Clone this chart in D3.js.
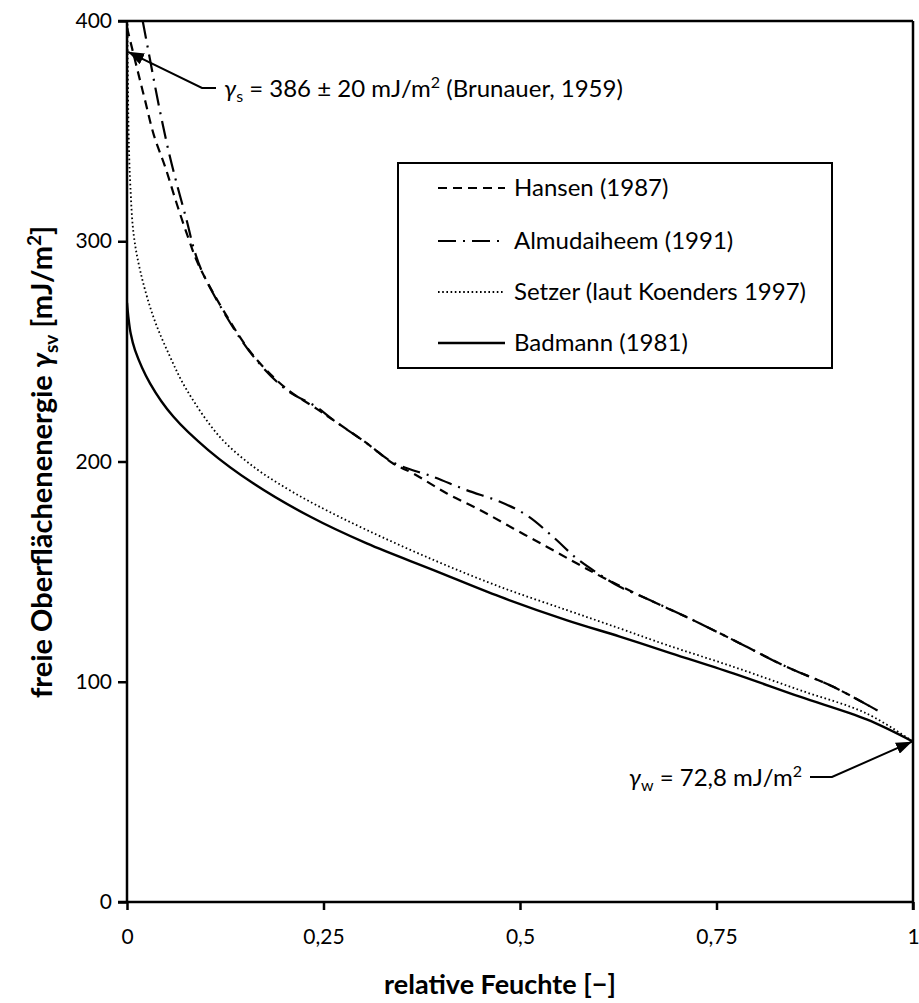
<!DOCTYPE html>
<html>
<head>
<meta charset="utf-8">
<style>
  body { margin: 0; background: #fff; }
  svg text { font-family: Lato, "Open Sans", sans-serif; fill: #000; }
</style>
</head>
<body>
<svg id="chart" width="919" height="1003"></svg>
<script src="https://cdnjs.cloudflare.com/ajax/libs/d3/7.8.5/d3.min.js"></script>
<script>
// relative humidity / surface energy pairs
const hansen = [
  [0, 397], [0.0127, 378.6], [0.0233, 363.5], [0.034, 348.4], [0.049, 333.3],
  [0.0636, 316.7], [0.078, 301.5], [0.091, 289.3], [0.127, 266], [0.161, 248],
  [0.203, 233], [0.241, 224], [0.2625, 218.8], [0.305, 208.3], [0.339, 199],
  [0.364, 194.6], [0.407, 185.5], [0.449, 178], [0.4915, 169.6], [0.534, 161.3],
  [0.572, 153.8], [0.608, 146.9], [0.665, 137.1], [0.72, 128], [0.78, 117.4],
  [0.839, 106.8], [0.8986, 97.7], [0.956, 86.7]
];
const almudaiheem = [
  [0.02, 400], [0.0297, 381.7], [0.0403, 362], [0.053, 340.8], [0.0636, 325.7],
  [0.0763, 309], [0.0848, 296.9], [0.0954, 286.3], [0.127, 265.5], [0.161, 247.6],
  [0.203, 232.5], [0.241, 224.8], [0.2625, 218.8], [0.305, 208.3], [0.339, 199.5],
  [0.39, 193], [0.432, 187], [0.4746, 181.7], [0.508, 175.7], [0.542, 165.8],
  [0.572, 156], [0.602, 148.5], [0.627, 143.1], [0.665, 137.1], [0.72, 128],
  [0.78, 117.4], [0.839, 106.8], [0.8986, 97.7], [0.956, 86.7]
];
const setzer = [
  [0.0003, 410], [0.002, 350], [0.0042, 325.6], [0.0085, 303], [0.017, 286.3],
  [0.0335, 265.7], [0.0547, 247.6], [0.076, 232.5], [0.118, 211.2], [0.161, 197.6],
  [0.203, 187.8], [0.241, 180.2], [0.305, 168.9], [0.39, 155.3], [0.4746, 143.1],
  [0.559, 132.6], [0.627, 124.2], [0.6866, 116.7], [0.7714, 106.8], [0.856, 96.2],
  [0.941, 85.6], [1, 72.8]
];
const badmann = [
  [0, 272], [0.0017, 265.7], [0.0047, 258.1], [0.0102, 250.6], [0.0293, 235.5],
  [0.0589, 220.4], [0.1034, 205.2], [0.161, 190], [0.2328, 175], [0.305, 162.8],
  [0.39, 150.7], [0.4746, 138.6], [0.559, 128], [0.627, 120.5], [0.6866, 113.6],
  [0.7714, 103.8], [0.856, 93.2], [0.941, 82.9], [1, 72.8]
];

const xTicks = [0, 0.25, 0.5, 0.75, 1];
const xTickLabels = ["0", "0,25", "0,5", "0,75", "1"];
const yTicks = [0, 100, 200, 300, 400];

const seriesNames = ["Hansen (1987)", "Almudaiheem (1991)", "Setzer (laut Koenders 1997)", "Badmann (1981)"];
const seriesData = [hansen, almudaiheem, setzer, badmann];
const seriesDash = ["9,6", "18,7,2,7", "1.6,2.6", null];
const seriesWidth = [2.2, 2.2, 1.8, 2.4];

const gammaS = 386;
const gammaW = 72.8;

const svg = d3.select("#chart");
const pLeft = 127, pRight = 913, pTop = 21, pBottom = 902;

const x = d3.scaleLinear().domain([0, 1]).range([pLeft, pRight]);
const y = d3.scaleLinear().domain([0, 400]).range([pBottom, pTop]);

const defs = svg.append("defs");
defs.append("clipPath").attr("id", "plotclip")
  .append("rect").attr("x", pLeft).attr("y", pTop).attr("width", pRight - pLeft).attr("height", pBottom - pTop);
defs.append("marker")
  .attr("id", "arrow")
  .attr("viewBox", "0 0 16 12")
  .attr("refX", 16).attr("refY", 6)
  .attr("markerWidth", 16).attr("markerHeight", 12)
  .attr("markerUnits", "userSpaceOnUse")
  .attr("orient", "auto")
  .append("path").attr("d", "M0,0 L16,6 L0,12 z").attr("fill", "#000");

// frame (top and right)
svg.append("line").attr("x1", pLeft - 9).attr("x2", pRight).attr("y1", pTop).attr("y2", pTop)
  .attr("stroke", "#000").attr("stroke-width", 2.5);
svg.append("line").attr("x1", pRight).attr("x2", pRight).attr("y1", pTop).attr("y2", pBottom + 8)
  .attr("stroke", "#000").attr("stroke-width", 2.5);

// axes
const xAxis = svg.append("g")
  .attr("transform", `translate(0,${pBottom})`)
  .call(d3.axisBottom(x).tickValues(xTicks).tickFormat((d, i) => xTickLabels[i]).tickSize(8).tickPadding(19));
const yAxis = svg.append("g")
  .attr("transform", `translate(${pLeft},0)`)
  .call(d3.axisLeft(y).tickValues(yTicks).tickSize(9).tickPadding(6));
[xAxis, yAxis].forEach(g => {
  g.select(".domain").attr("stroke", "#000").attr("stroke-width", 2.5);
  g.selectAll(".tick line").attr("stroke", "#000").attr("stroke-width", 2.5);
  g.selectAll(".tick text").attr("font-size", 21).attr("fill", "#000")
    .style("font-family", "Lato, 'Open Sans', sans-serif");
});
xAxis.select(".domain").attr("d", `M${pLeft - 9},0H${pRight}`);
yAxis.select(".domain").attr("d", `M0,${pBottom}V${pTop}`);

// curves
const line = d3.line().x(d => x(d[0])).y(d => y(d[1])).curve(d3.curveCatmullRom.alpha(0.5));
const plot = svg.append("g").attr("clip-path", "url(#plotclip)");
seriesData.forEach((data, i) => {
  plot.append("path")
    .attr("d", line(data))
    .attr("fill", "none")
    .attr("stroke", "#000")
    .attr("stroke-width", seriesWidth[i])
    .attr("stroke-dasharray", seriesDash[i]);
});

// legend
const lg = svg.append("g");
lg.append("rect").attr("x", 398).attr("y", 163).attr("width", 434).attr("height", 205)
  .attr("fill", "#fff").attr("stroke", "#000").attr("stroke-width", 2);
const rowY = [188, 241, 292, 343];
seriesNames.forEach((name, i) => {
  lg.append("line").attr("x1", 438).attr("x2", 505).attr("y1", rowY[i]).attr("y2", rowY[i])
    .attr("stroke", "#000").attr("stroke-width", seriesWidth[i])
    .attr("stroke-dasharray", seriesDash[i]);
  lg.append("text").attr("x", 514).attr("y", rowY[i] + 8).attr("font-size", 24).text(name);
});

// annotation: gamma_s
svg.append("polyline")
  .attr("points", `216,88 202,88 ${x(0) + 1},${y(gammaS)}`)
  .attr("fill", "none").attr("stroke", "#000").attr("stroke-width", 2)
  .attr("marker-end", "url(#arrow)");
const t1 = svg.append("text").attr("x", 224).attr("y", 97).attr("font-size", 24);
t1.append("tspan").attr("font-style", "italic").text("γ");
t1.append("tspan").attr("font-size", 16).attr("dy", 5).text("s");
t1.append("tspan").attr("dy", -5).text(" = 386 ± 20 mJ/m");
t1.append("tspan").attr("font-size", 16).attr("dy", -9).text("2");
t1.append("tspan").attr("dy", 9).text(" (Brunauer, 1959)");

// annotation: gamma_w
svg.append("polyline")
  .attr("points", `810,777 832,777 ${x(1) - 1},${y(gammaW)}`)
  .attr("fill", "none").attr("stroke", "#000").attr("stroke-width", 2)
  .attr("marker-end", "url(#arrow)");
const t2 = svg.append("text").attr("x", 802).attr("y", 786).attr("font-size", 24)
  .attr("text-anchor", "end");
t2.append("tspan").attr("font-style", "italic").text("γ");
t2.append("tspan").attr("font-size", 16).attr("dy", 5).text("w");
t2.append("tspan").attr("dy", -5).text("  = 72,8 mJ/m");
t2.append("tspan").attr("font-size", 16).attr("dy", -9).text("2");

// axis titles
svg.append("text").attr("x", 500).attr("y", 994)
  .attr("text-anchor", "middle").attr("font-size", 27).attr("font-weight", "bold")
  .text("relative Feuchte [−]");
const yt = svg.append("text")
  .attr("transform", `translate(52,462) rotate(-90)`)
  .attr("text-anchor", "middle").attr("font-size", 29).attr("font-weight", "bold");
yt.append("tspan").text("freie Oberflächenenergie ");
yt.append("tspan").attr("font-style", "italic").text("γ");
yt.append("tspan").attr("font-size", 19).attr("dy", 6).text("sv");
yt.append("tspan").attr("dy", -6).text(" [mJ/m");
yt.append("tspan").attr("font-size", 19).attr("dy", -11).text("2");
yt.append("tspan").attr("dy", 11).text("]");
</script>
</body>
</html>
